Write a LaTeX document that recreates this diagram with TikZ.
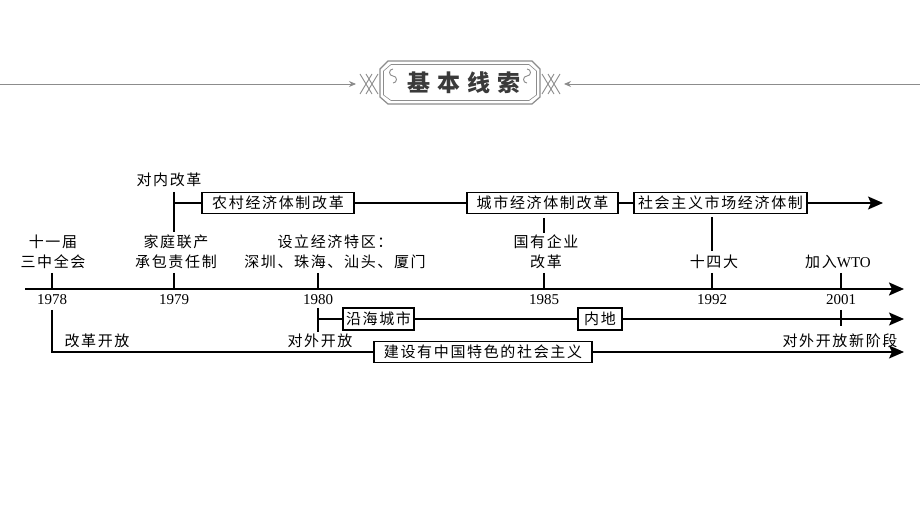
\documentclass[tikz,border=0pt]{standalone}
\usepackage{fontspec}
\setmainfont{Liberation Serif}
\newfontfamily\cjk[LetterSpace=11]{Noto Sans CJK SC}
\newfontfamily\cjkh[LetterSpace=30]{Noto Sans CJK SC}
\usetikzlibrary{arrows.meta}
\definecolor{hdr}{HTML}{8C8C8C}
\definecolor{hdrtxt}{HTML}{3A3A3A}
\tikzset{
  lbl/.style={font=\cjk\fontsize{15}{20}\selectfont, inner sep=0pt, align=center},
  yr/.style={font=\fontsize{15}{15}\selectfont, inner sep=0pt},
  bx/.style={lbl, draw, line width=1.1pt, minimum height=21pt},
  ln/.style={line width=1.6pt},
  axis/.style={line width=2.2pt, -{Stealth[length=15pt,width=13pt,inset=3pt]}},
  arr/.style={ln, -{Stealth[length=15pt,width=13pt,inset=3pt]}},
  orn/.style={hdr, line width=0.9pt},
}
\begin{document}
\begin{tikzpicture}[x=1pt,y=-1pt]
\useasboundingbox (0,0) rectangle (920,518);
\fill[white] (0,0) rectangle (920,518);

% ---------- header ----------
\coordinate (hl0) at (0,84);
\coordinate (hl1) at (356,84);
\coordinate (hr0) at (920,84);
\coordinate (hr1) at (564,84);
\draw[orn, -{Stealth[length=7pt,width=6pt]}] (hl0) -- (hl1);
\draw[orn, -{Stealth[length=7pt,width=6pt]}] (hr0) -- (hr1);
% cross ornaments
\draw[orn] (360,74) -- (372,94) (360,94) -- (372,74) (366,74) -- (378,94) (366,94) -- (378,74);
\draw[orn] (560,74) -- (548,94) (560,94) -- (548,74) (554,74) -- (542,94) (554,94) -- (542,74);
% frame
\draw[orn, line width=1.2pt] (388,61) -- (532,61) -- (540,69) -- (540,97) -- (532,104) -- (388,104) -- (380,97) -- (380,69) -- cycle;
\draw[orn, line width=0.6pt] (391,64.5) -- (529,64.5) -- (536.5,71) -- (536.5,95) -- (529,100.5) -- (391,100.5) -- (383.5,95) -- (383.5,71) -- cycle;
% scroll swirls
\draw[orn] (393,76) arc[start angle=90,end angle=270,radius=3.5] (393,83) arc[start angle=90,end angle=-90,radius=3.5];
\draw[orn] (527,76) arc[start angle=90,end angle=-90,radius=3.5] (527,83) arc[start angle=90,end angle=270,radius=3.5];
\node[font=\cjkh\bfseries\fontsize{23}{23}\selectfont, text=hdrtxt, inner sep=0pt] (title) at (464,83) {基本线索};

% ---------- main axis ----------
\coordinate (ax0) at (25,289);
\coordinate (ax1) at (904,289);
\draw[axis] (ax0) -- (ax1);

% year ticks and labels
\foreach \n/\x in {y78/52, y79/174, y80/318, y85/544, y92/712, y01/841}{
  \coordinate (\n top) at (\x,273);
  \coordinate (\n ax) at (\x,289);
  \draw[ln] (\n top) -- (\n ax);
}
\node[yr] (t78) at (52,300) {1978};
\node[yr] (t79) at (174,300) {1979};
\node[yr] (t80) at (318,300) {1980};
\node[yr] (t85) at (544,300) {1985};
\node[yr] (t92) at (712,300) {1992};
\node[yr] (t01) at (841,300) {2001};

% labels above axis
\node[lbl] (l78) at (53,252) {十一届\\三中全会};
\node[lbl] (l79) at (176,252) {家庭联产\\承包责任制};
\node[lbl] (l80) at (335,252) {设立经济特区：\\深圳、珠海、汕头、厦门};
\node[lbl] (l85) at (546,252) {国有企业\\改革};
\node[lbl] (l92) at (714,262) {十四大};
\node[inner sep=0pt] (l01) at (838,262) {{\cjk\fontsize{15}{20}\selectfont 加入}\fontsize{15}{15}\selectfont WTO};
\node[lbl] (nei) at (169,180) {对内改革};

% ---------- upper line (internal reform) ----------
\coordinate (u0) at (174,192);
\coordinate (u1) at (174,232);
\coordinate (um) at (174,203);
\coordinate (uend) at (883,203);
\draw[ln] (u0) -- (u1);
\node[bx, minimum width=152pt] (b1) at (278,203) {农村经济体制改革};
\node[bx, minimum width=151pt] (b2) at (542.5,203) {城市经济体制改革};
\node[bx, minimum width=173pt] (b3) at (720.5,203) {社会主义市场经济体制};
\draw[ln] (um) -- (b1.west);
\draw[ln] (b1.east) -- (b2.west);
\draw[ln] (b2.east) -- (b3.west);
\draw[arr] (b3.east) -- (uend);

\coordinate (c85a) at (544,218);
\coordinate (c85b) at (544,233);
\draw[ln] (c85a) -- (c85b);
\coordinate (c92a) at (712,217);
\coordinate (c92b) at (712,251);
\draw[ln] (c92a) -- (c92b);

% ---------- lower lines ----------
% opening to the outside
\coordinate (o0) at (318,308);
\coordinate (o1) at (318,332);
\coordinate (om) at (318,319);
\coordinate (oend) at (904,319);
\draw[ln] (o0) -- (o1);
\node[bx, minimum width=71pt, minimum height=22pt] (b4) at (378.5,319) {沿海城市};
\node[bx, minimum width=44pt, minimum height=22pt] (b5) at (600,319) {内地};
\draw[ln] (om) -- (b4.west);
\draw[ln] (b4.east) -- (b5.west);
\draw[arr] (b5.east) -- (oend);
\coordinate (w0) at (841,310);
\coordinate (w1) at (841,326);
\draw[ln] (w0) -- (w1);

% reform and opening
\coordinate (r0) at (52,310);
\coordinate (r1) at (52,352);
\coordinate (rend) at (904,352);
\node[bx, minimum width=218pt] (b6) at (483,352) {建设有中国特色的社会主义};
\draw[ln] (r0) -- (r1) -- (b6.west);
\draw[arr] (b6.east) -- (rend);

\node[lbl] (gg) at (97,341) {改革开放};
\node[lbl] (dw) at (320,341) {对外开放};
\node[lbl] (xj) at (840,341) {对外开放新阶段};
\end{tikzpicture}
\end{document}
